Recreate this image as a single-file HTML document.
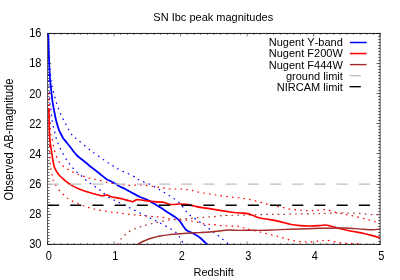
<!DOCTYPE html>
<html><head><meta charset="utf-8"><title>SN Ibc peak magnitudes</title>
<style>
html,body{margin:0;padding:0;background:#fff;}
body{width:400px;height:280px;position:relative;overflow:hidden;font-family:"Liberation Sans",sans-serif;}
.t{position:absolute;font-size:11px;line-height:11px;color:#000;white-space:nowrap;font-kerning:none;font-feature-settings:"kern" 0,"liga" 0;transform:scaleY(1.05);transform-origin:50% 9.3px;}
#w{position:absolute;left:0;top:0;width:400px;height:280px;will-change:transform;}
</style></head><body><div id="w">
<svg width="400" height="280" viewBox="0 0 400 280" style="position:absolute;left:0;top:0">
<defs><clipPath id="c"><rect x="47.6" y="33.45" width="332.54999999999995" height="210.95"/></clipPath></defs>
<path d="M47.60,244.4 v-3.0 M47.60,33.45 v3.0 M54.25,244.4 v-1.5 M54.25,33.45 v1.5 M60.90,244.4 v-1.5 M60.90,33.45 v1.5 M67.55,244.4 v-1.5 M67.55,33.45 v1.5 M74.20,244.4 v-1.5 M74.20,33.45 v1.5 M80.85,244.4 v-1.5 M80.85,33.45 v1.5 M87.51,244.4 v-1.5 M87.51,33.45 v1.5 M94.16,244.4 v-1.5 M94.16,33.45 v1.5 M100.81,244.4 v-1.5 M100.81,33.45 v1.5 M107.46,244.4 v-1.5 M107.46,33.45 v1.5 M114.11,244.4 v-3.0 M114.11,33.45 v3.0 M120.76,244.4 v-1.5 M120.76,33.45 v1.5 M127.41,244.4 v-1.5 M127.41,33.45 v1.5 M134.06,244.4 v-1.5 M134.06,33.45 v1.5 M140.71,244.4 v-1.5 M140.71,33.45 v1.5 M147.36,244.4 v-1.5 M147.36,33.45 v1.5 M154.02,244.4 v-1.5 M154.02,33.45 v1.5 M160.67,244.4 v-1.5 M160.67,33.45 v1.5 M167.32,244.4 v-1.5 M167.32,33.45 v1.5 M173.97,244.4 v-1.5 M173.97,33.45 v1.5 M180.62,244.4 v-3.0 M180.62,33.45 v3.0 M187.27,244.4 v-1.5 M187.27,33.45 v1.5 M193.92,244.4 v-1.5 M193.92,33.45 v1.5 M200.57,244.4 v-1.5 M200.57,33.45 v1.5 M207.22,244.4 v-1.5 M207.22,33.45 v1.5 M213.87,244.4 v-1.5 M213.87,33.45 v1.5 M220.53,244.4 v-1.5 M220.53,33.45 v1.5 M227.18,244.4 v-1.5 M227.18,33.45 v1.5 M233.83,244.4 v-1.5 M233.83,33.45 v1.5 M240.48,244.4 v-1.5 M240.48,33.45 v1.5 M247.13,244.4 v-3.0 M247.13,33.45 v3.0 M253.78,244.4 v-1.5 M253.78,33.45 v1.5 M260.43,244.4 v-1.5 M260.43,33.45 v1.5 M267.08,244.4 v-1.5 M267.08,33.45 v1.5 M273.73,244.4 v-1.5 M273.73,33.45 v1.5 M280.38,244.4 v-1.5 M280.38,33.45 v1.5 M287.04,244.4 v-1.5 M287.04,33.45 v1.5 M293.69,244.4 v-1.5 M293.69,33.45 v1.5 M300.34,244.4 v-1.5 M300.34,33.45 v1.5 M306.99,244.4 v-1.5 M306.99,33.45 v1.5 M313.64,244.4 v-3.0 M313.64,33.45 v3.0 M320.29,244.4 v-1.5 M320.29,33.45 v1.5 M326.94,244.4 v-1.5 M326.94,33.45 v1.5 M333.59,244.4 v-1.5 M333.59,33.45 v1.5 M340.24,244.4 v-1.5 M340.24,33.45 v1.5 M346.89,244.4 v-1.5 M346.89,33.45 v1.5 M353.55,244.4 v-1.5 M353.55,33.45 v1.5 M360.20,244.4 v-1.5 M360.20,33.45 v1.5 M366.85,244.4 v-1.5 M366.85,33.45 v1.5 M373.50,244.4 v-1.5 M373.50,33.45 v1.5 M380.15,244.4 v-3.0 M380.15,33.45 v3.0" stroke="#000" stroke-width="0.5" fill="none"/>
<path d="M47.6,33.50 h3.6 M380.15,33.50 h-3.6 M47.6,36.50 h1.9 M380.15,36.50 h-1.9 M47.6,39.50 h1.9 M380.15,39.50 h-1.9 M47.6,42.50 h1.9 M380.15,42.50 h-1.9 M47.6,45.50 h1.9 M380.15,45.50 h-1.9 M47.6,48.50 h1.9 M380.15,48.50 h-1.9 M47.6,51.50 h1.9 M380.15,51.50 h-1.9 M47.6,54.50 h1.9 M380.15,54.50 h-1.9 M47.6,57.50 h1.9 M380.15,57.50 h-1.9 M47.6,60.50 h1.9 M380.15,60.50 h-1.9 M47.6,63.50 h3.6 M380.15,63.50 h-3.6 M47.6,66.50 h1.9 M380.15,66.50 h-1.9 M47.6,69.50 h1.9 M380.15,69.50 h-1.9 M47.6,72.50 h1.9 M380.15,72.50 h-1.9 M47.6,75.50 h1.9 M380.15,75.50 h-1.9 M47.6,78.50 h1.9 M380.15,78.50 h-1.9 M47.6,81.50 h1.9 M380.15,81.50 h-1.9 M47.6,84.50 h1.9 M380.15,84.50 h-1.9 M47.6,87.50 h1.9 M380.15,87.50 h-1.9 M47.6,90.50 h1.9 M380.15,90.50 h-1.9 M47.6,93.50 h3.6 M380.15,93.50 h-3.6 M47.6,96.50 h1.9 M380.15,96.50 h-1.9 M47.6,99.50 h1.9 M380.15,99.50 h-1.9 M47.6,102.50 h1.9 M380.15,102.50 h-1.9 M47.6,105.50 h1.9 M380.15,105.50 h-1.9 M47.6,108.50 h1.9 M380.15,108.50 h-1.9 M47.6,111.50 h1.9 M380.15,111.50 h-1.9 M47.6,114.50 h1.9 M380.15,114.50 h-1.9 M47.6,117.50 h1.9 M380.15,117.50 h-1.9 M47.6,120.50 h1.9 M380.15,120.50 h-1.9 M47.6,123.50 h3.6 M380.15,123.50 h-3.6 M47.6,126.50 h1.9 M380.15,126.50 h-1.9 M47.6,129.50 h1.9 M380.15,129.50 h-1.9 M47.6,132.50 h1.9 M380.15,132.50 h-1.9 M47.6,135.50 h1.9 M380.15,135.50 h-1.9 M47.6,138.50 h1.9 M380.15,138.50 h-1.9 M47.6,141.50 h1.9 M380.15,141.50 h-1.9 M47.6,144.50 h1.9 M380.15,144.50 h-1.9 M47.6,147.50 h1.9 M380.15,147.50 h-1.9 M47.6,150.50 h1.9 M380.15,150.50 h-1.9 M47.6,153.50 h3.6 M380.15,153.50 h-3.6 M47.6,157.50 h1.9 M380.15,157.50 h-1.9 M47.6,160.50 h1.9 M380.15,160.50 h-1.9 M47.6,163.50 h1.9 M380.15,163.50 h-1.9 M47.6,166.50 h1.9 M380.15,166.50 h-1.9 M47.6,169.50 h1.9 M380.15,169.50 h-1.9 M47.6,172.50 h1.9 M380.15,172.50 h-1.9 M47.6,175.50 h1.9 M380.15,175.50 h-1.9 M47.6,178.50 h1.9 M380.15,178.50 h-1.9 M47.6,181.50 h1.9 M380.15,181.50 h-1.9 M47.6,184.50 h3.6 M380.15,184.50 h-3.6 M47.6,187.50 h1.9 M380.15,187.50 h-1.9 M47.6,190.50 h1.9 M380.15,190.50 h-1.9 M47.6,193.50 h1.9 M380.15,193.50 h-1.9 M47.6,196.50 h1.9 M380.15,196.50 h-1.9 M47.6,199.50 h1.9 M380.15,199.50 h-1.9 M47.6,202.50 h1.9 M380.15,202.50 h-1.9 M47.6,205.50 h1.9 M380.15,205.50 h-1.9 M47.6,208.50 h1.9 M380.15,208.50 h-1.9 M47.6,211.50 h1.9 M380.15,211.50 h-1.9 M47.6,214.50 h3.6 M380.15,214.50 h-3.6 M47.6,217.50 h1.9 M380.15,217.50 h-1.9 M47.6,220.50 h1.9 M380.15,220.50 h-1.9 M47.6,223.50 h1.9 M380.15,223.50 h-1.9 M47.6,226.50 h1.9 M380.15,226.50 h-1.9 M47.6,229.50 h1.9 M380.15,229.50 h-1.9 M47.6,232.50 h1.9 M380.15,232.50 h-1.9 M47.6,235.50 h1.9 M380.15,235.50 h-1.9 M47.6,238.50 h1.9 M380.15,238.50 h-1.9 M47.6,241.50 h1.9 M380.15,241.50 h-1.9 M47.6,244.50 h3.6 M380.15,244.50 h-3.6" stroke="#000" stroke-width="0.62" fill="none"/>
<path d="M47.300000000000004,33.45 H380.5" stroke="#000" stroke-width="0.9" fill="none"/>
<path d="M47.300000000000004,244.4 H380.5" stroke="#000" stroke-width="0.9" fill="none"/>
<path d="M47.5,33.45 V244.4" stroke="#000" stroke-width="0.62" fill="none"/>
<path d="M380.09999999999997,33.45 V244.4" stroke="#000" stroke-width="0.75" fill="none"/>
<g clip-path="url(#c)" fill="none" stroke-linejoin="round">
<path d="M48.20,33.50 C48.25,34.92 48.42,39.25 48.50,42.00 C48.58,44.75 48.53,45.33 48.70,50.00 C48.87,54.67 49.27,65.00 49.50,70.00 C49.73,75.00 49.88,77.33 50.10,80.00 C50.32,82.67 50.43,82.67 50.80,86.00 C51.17,89.33 51.77,96.00 52.30,100.00 C52.83,104.00 53.38,106.67 54.00,110.00 C54.62,113.33 55.17,116.67 56.00,120.00 C56.83,123.33 58.08,127.50 59.00,130.00 C59.92,132.50 60.83,133.67 61.50,135.00 C62.17,136.33 62.08,136.67 63.00,138.00 C63.92,139.33 65.67,141.33 67.00,143.00 C68.33,144.67 69.83,146.50 71.00,148.00 C72.17,149.50 73.00,150.75 74.00,152.00 C75.00,153.25 75.67,154.25 77.00,155.50 C78.33,156.75 80.33,158.17 82.00,159.50 C83.67,160.83 85.67,162.37 87.00,163.50 C88.33,164.63 88.67,165.22 90.00,166.30 C91.33,167.38 93.33,168.72 95.00,170.00 C96.67,171.28 98.33,172.67 100.00,174.00 C101.67,175.33 103.75,177.03 105.00,178.00 C106.25,178.97 106.67,179.33 107.50,179.80 C108.33,180.27 108.75,180.18 110.00,180.80 C111.25,181.42 113.33,182.55 115.00,183.50 C116.67,184.45 118.33,185.58 120.00,186.50 C121.67,187.42 123.33,188.13 125.00,189.00 C126.67,189.87 127.50,190.37 130.00,191.70 C132.50,193.03 137.29,195.72 140.00,197.00 C142.71,198.28 144.58,198.70 146.25,199.40 C147.92,200.10 148.33,200.27 150.00,201.20 C151.67,202.13 154.17,203.74 156.25,205.00 C158.33,206.26 160.42,207.40 162.50,208.75 C164.58,210.10 166.67,211.74 168.75,213.10 C170.83,214.46 173.22,215.65 175.00,216.90 C176.78,218.15 178.15,219.25 179.40,220.60 C180.65,221.95 181.47,223.53 182.50,225.00 C183.53,226.47 184.56,228.32 185.60,229.40 C186.64,230.48 187.39,230.78 188.75,231.50 C190.11,232.22 191.88,232.71 193.75,233.75 C195.62,234.79 197.74,235.96 200.00,237.75 C202.26,239.54 206.08,243.38 207.30,244.50" stroke="#0000ff" stroke-width="1.8"/>
<path d="M48.20,33.50 C48.38,37.92 48.83,52.25 49.30,60.00 C49.77,67.75 50.38,75.00 51.00,80.00 C51.62,85.00 52.23,86.67 53.00,90.00 C53.77,93.33 54.60,96.67 55.60,100.00 C56.60,103.33 57.67,106.67 59.00,110.00 C60.33,113.33 61.93,116.67 63.60,120.00 C65.27,123.33 67.43,127.33 69.00,130.00 C70.57,132.67 71.50,134.33 73.00,136.00 C74.50,137.67 75.17,137.67 78.00,140.00 C80.83,142.33 85.67,146.67 90.00,150.00 C94.33,153.33 100.17,157.33 104.00,160.00 C107.83,162.67 110.33,164.33 113.00,166.00 C115.67,167.67 116.67,168.33 120.00,170.00 C123.33,171.67 129.67,174.27 133.00,176.00 C136.33,177.73 137.17,179.00 140.00,180.40 C142.83,181.80 146.67,182.80 150.00,184.40 C153.33,186.00 156.67,188.07 160.00,190.00 C163.33,191.93 166.67,193.75 170.00,196.00 C173.33,198.25 177.50,201.17 180.00,203.50 C182.50,205.83 183.33,208.05 185.00,210.00 C186.67,211.95 188.17,213.65 190.00,215.20 C191.83,216.75 194.00,217.92 196.00,219.30 C198.00,220.68 200.17,222.22 202.00,223.50 C203.83,224.78 205.33,225.75 207.00,227.00 C208.67,228.25 209.83,229.33 212.00,231.00 C214.17,232.67 217.17,234.75 220.00,237.00 C222.83,239.25 227.50,243.25 229.00,244.50" stroke="#0000ff" stroke-width="1.2" stroke-dasharray="1.6 4.2"/>
<path d="M48.20,33.50 C48.25,39.58 48.23,58.92 48.50,70.00 C48.77,81.08 49.38,93.33 49.80,100.00 C50.22,106.67 50.63,106.67 51.00,110.00 C51.37,113.33 51.43,116.50 52.00,120.00 C52.57,123.50 53.60,127.67 54.40,131.00 C55.20,134.33 55.70,136.83 56.80,140.00 C57.90,143.17 59.30,146.57 61.00,150.00 C62.70,153.43 65.43,158.12 67.00,160.60 C68.57,163.08 69.22,163.43 70.40,164.90 C71.58,166.37 72.85,168.03 74.10,169.40 C75.35,170.77 76.48,171.85 77.90,173.10 C79.32,174.35 81.08,175.58 82.60,176.90 C84.12,178.22 85.50,179.75 87.00,181.00 C88.50,182.25 90.10,183.36 91.60,184.40 C93.10,185.44 94.43,186.15 96.00,187.25 C97.57,188.35 99.17,189.54 101.00,191.00 C102.83,192.46 104.83,194.50 107.00,196.00 C109.17,197.50 111.83,198.83 114.00,200.00 C116.17,201.17 117.33,201.67 120.00,203.00 C122.67,204.33 126.67,206.33 130.00,208.00 C133.33,209.67 136.67,211.33 140.00,213.00 C143.33,214.67 146.67,216.33 150.00,218.00 C153.33,219.67 156.67,221.25 160.00,223.00 C163.33,224.75 167.33,226.92 170.00,228.50 C172.67,230.08 174.50,231.25 176.00,232.50 C177.50,233.75 178.00,234.58 179.00,236.00 C180.00,237.42 181.25,239.58 182.00,241.00 C182.75,242.42 183.25,243.92 183.50,244.50" stroke="#0000ff" stroke-width="1.2" stroke-dasharray="1.6 4.2"/>
<path d="M48.80,108.00 C48.83,109.00 48.92,110.33 49.00,114.00 C49.08,117.67 49.13,125.50 49.30,130.00 C49.47,134.50 49.63,137.50 50.00,141.00 C50.37,144.50 51.08,148.17 51.50,151.00 C51.92,153.83 52.07,155.47 52.50,158.00 C52.93,160.53 53.60,164.27 54.10,166.20 C54.60,168.13 54.98,168.55 55.50,169.60 C56.02,170.65 56.62,171.57 57.25,172.50 C57.88,173.43 58.57,174.37 59.30,175.20 C60.02,176.03 60.38,176.38 61.60,177.50 C62.82,178.62 64.82,180.55 66.60,181.90 C68.38,183.25 70.27,184.46 72.25,185.60 C74.23,186.74 76.21,187.77 78.50,188.75 C80.79,189.73 83.50,190.67 86.00,191.50 C88.50,192.33 91.50,193.20 93.50,193.75 C95.50,194.30 96.58,194.46 98.00,194.80 C99.42,195.14 100.67,195.77 102.00,195.80 C103.33,195.83 105.00,195.08 106.00,195.00 C107.00,194.92 107.00,194.97 108.00,195.30 C109.00,195.63 110.00,196.48 112.00,197.00 C114.00,197.52 117.00,197.73 120.00,198.40 C123.00,199.07 127.83,200.47 130.00,201.00 C132.17,201.53 131.83,201.83 133.00,201.60 C134.17,201.37 135.17,199.80 137.00,199.60 C138.83,199.40 141.17,200.07 144.00,200.40 C146.83,200.73 150.67,201.27 154.00,201.60 C157.33,201.93 161.33,201.93 164.00,202.40 C166.67,202.87 167.33,204.13 170.00,204.40 C172.67,204.67 177.33,204.00 180.00,204.00 C182.67,204.00 183.67,204.07 186.00,204.40 C188.33,204.73 191.33,205.47 194.00,206.00 C196.67,206.53 199.33,207.17 202.00,207.60 C204.67,208.03 207.00,208.13 210.00,208.60 C213.00,209.07 216.67,209.83 220.00,210.40 C223.33,210.97 226.67,211.57 230.00,212.00 C233.33,212.43 237.33,212.77 240.00,213.00 C242.67,213.23 244.00,213.07 246.00,213.40 C248.00,213.73 249.67,214.23 252.00,215.00 C254.33,215.77 257.00,217.23 260.00,218.00 C263.00,218.77 266.67,219.00 270.00,219.60 C273.33,220.20 276.67,220.83 280.00,221.60 C283.33,222.37 286.67,223.53 290.00,224.20 C293.33,224.87 296.67,225.30 300.00,225.60 C303.33,225.90 306.67,226.02 310.00,226.00 C313.33,225.98 317.50,225.67 320.00,225.50 C322.50,225.33 323.25,224.92 325.00,225.00 C326.75,225.08 328.42,225.50 330.50,226.00 C332.58,226.50 334.92,227.33 337.50,228.00 C340.08,228.67 343.08,229.37 346.00,230.00 C348.92,230.63 352.03,231.22 355.00,231.80 C357.97,232.38 360.88,232.87 363.80,233.50 C366.72,234.13 369.72,234.87 372.50,235.60 C375.28,236.33 379.17,237.52 380.50,237.90" stroke="#ff0000" stroke-width="1.65"/>
<path d="M48.80,93.00 C49.07,99.17 49.80,122.17 50.40,130.00 C51.00,137.83 51.73,136.67 52.40,140.00 C53.07,143.33 53.47,146.67 54.40,150.00 C55.33,153.33 56.57,157.33 58.00,160.00 C59.43,162.67 61.17,164.33 63.00,166.00 C64.83,167.67 66.67,168.67 69.00,170.00 C71.33,171.33 73.83,172.73 77.00,174.00 C80.17,175.27 84.50,176.60 88.00,177.60 C91.50,178.60 94.33,179.10 98.00,180.00 C101.67,180.90 106.33,182.27 110.00,183.00 C113.67,183.73 116.67,184.00 120.00,184.40 C123.33,184.80 126.67,185.30 130.00,185.40 C133.33,185.50 136.67,184.90 140.00,185.00 C143.33,185.10 146.67,185.57 150.00,186.00 C153.33,186.43 156.67,187.10 160.00,187.60 C163.33,188.10 166.67,188.77 170.00,189.00 C173.33,189.23 176.67,188.83 180.00,189.00 C183.33,189.17 186.67,189.43 190.00,190.00 C193.33,190.57 196.67,191.73 200.00,192.40 C203.33,193.07 206.67,193.47 210.00,194.00 C213.33,194.53 216.67,195.10 220.00,195.60 C223.33,196.10 226.67,196.60 230.00,197.00 C233.33,197.40 236.67,197.57 240.00,198.00 C243.33,198.43 246.67,198.93 250.00,199.60 C253.33,200.27 256.67,201.10 260.00,202.00 C263.33,202.90 266.67,204.20 270.00,205.00 C273.33,205.80 276.58,206.10 280.00,206.80 C283.42,207.50 286.75,208.60 290.50,209.20 C294.25,209.80 298.75,210.15 302.50,210.40 C306.25,210.65 310.25,210.77 313.00,210.70 C315.75,210.63 317.00,210.17 319.00,210.00 C321.00,209.83 323.08,209.57 325.00,209.70 C326.92,209.83 328.42,210.25 330.50,210.80 C332.58,211.35 335.45,212.48 337.50,213.00 C339.55,213.52 340.22,213.40 342.80,213.90 C345.38,214.40 349.22,215.15 353.00,216.00 C356.78,216.85 361.67,218.00 365.50,219.00 C369.33,220.00 373.50,221.25 376.00,222.00 C378.50,222.75 379.75,223.25 380.50,223.50" stroke="#ff0000" stroke-width="1.2" stroke-dasharray="1.6 4.2"/>
<path d="M48.50,93.00 C48.68,102.50 49.18,137.17 49.60,150.00 C50.02,162.83 50.53,165.67 51.00,170.00 C51.47,174.33 52.07,174.33 52.40,176.00 C52.73,177.67 52.57,178.67 53.00,180.00 C53.43,181.33 54.00,182.33 55.00,184.00 C56.00,185.67 57.33,188.00 59.00,190.00 C60.67,192.00 63.17,194.33 65.00,196.00 C66.83,197.67 67.67,198.67 70.00,200.00 C72.33,201.33 76.17,202.83 79.00,204.00 C81.83,205.17 84.50,206.17 87.00,207.00 C89.50,207.83 91.17,208.33 94.00,209.00 C96.83,209.67 100.67,210.43 104.00,211.00 C107.33,211.57 111.33,212.07 114.00,212.40 C116.67,212.73 117.33,212.67 120.00,213.00 C122.67,213.33 126.67,214.00 130.00,214.40 C133.33,214.80 136.67,215.08 140.00,215.40 C143.33,215.72 147.00,216.05 150.00,216.30 C153.00,216.55 155.67,216.68 158.00,216.90 C160.33,217.12 162.00,217.28 164.00,217.60 C166.00,217.92 168.00,218.47 170.00,218.80 C172.00,219.13 174.33,219.35 176.00,219.60 C177.67,219.85 178.46,220.23 180.00,220.30 C181.54,220.37 183.50,219.92 185.25,220.00 C187.00,220.08 188.46,220.43 190.50,220.80 C192.54,221.17 195.17,221.68 197.50,222.20 C199.83,222.72 202.46,223.55 204.50,223.90 C206.54,224.25 208.00,224.17 209.75,224.30 C211.50,224.43 213.12,224.48 215.00,224.70 C216.88,224.92 218.96,225.38 221.00,225.60 C223.04,225.82 225.08,225.90 227.25,226.00 C229.42,226.10 231.88,226.13 234.00,226.20 C236.12,226.27 238.33,226.10 240.00,226.40 C241.67,226.70 242.33,227.47 244.00,228.00 C245.67,228.53 247.33,228.93 250.00,229.60 C252.67,230.27 256.67,231.20 260.00,232.00 C263.33,232.80 266.67,233.57 270.00,234.40 C273.33,235.23 276.67,236.07 280.00,237.00 C283.33,237.93 286.67,239.23 290.00,240.00 C293.33,240.77 296.67,241.27 300.00,241.60 C303.33,241.93 306.67,242.10 310.00,242.00 C313.33,241.90 317.50,241.30 320.00,241.00 C322.50,240.70 323.25,240.22 325.00,240.20 C326.75,240.18 328.42,240.55 330.50,240.90 C332.58,241.25 335.45,241.93 337.50,242.30 C339.55,242.67 341.05,242.92 342.80,243.10 C344.55,243.28 346.13,243.33 348.00,243.40 C349.87,243.47 352.00,243.47 354.00,243.50 C356.00,243.53 358.50,243.38 360.00,243.60 C361.50,243.82 362.50,244.60 363.00,244.80" stroke="#ff0000" stroke-width="1.2" stroke-dasharray="1.6 4.2"/>
<path d="M137.00,244.50 C138.17,243.92 141.50,242.08 144.00,241.00 C146.50,239.92 149.33,238.83 152.00,238.00 C154.67,237.17 157.00,236.57 160.00,236.00 C163.00,235.43 166.67,234.97 170.00,234.60 C173.33,234.23 176.67,234.07 180.00,233.80 C183.33,233.53 186.67,233.20 190.00,233.00 C193.33,232.80 196.67,232.77 200.00,232.60 C203.33,232.43 206.67,232.27 210.00,232.00 C213.33,231.73 217.00,231.33 220.00,231.00 C223.00,230.67 224.67,230.10 228.00,230.00 C231.33,229.90 236.33,230.37 240.00,230.40 C243.67,230.43 246.67,230.20 250.00,230.20 C253.33,230.20 255.00,230.50 260.00,230.40 C265.00,230.30 273.33,229.83 280.00,229.60 C286.67,229.37 293.33,229.22 300.00,229.00 C306.67,228.78 313.75,228.47 320.00,228.30 C326.25,228.13 333.17,228.05 337.50,228.00 C341.83,227.95 343.08,227.90 346.00,228.00 C348.92,228.10 352.00,228.38 355.00,228.60 C358.00,228.82 361.08,229.12 364.00,229.30 C366.92,229.48 369.75,229.75 372.50,229.70 C375.25,229.65 379.17,229.12 380.50,229.00" stroke="#a52a2a" stroke-width="1.4"/>
<path d="M117.60,244.50 C118.17,243.58 119.60,240.75 121.00,239.00 C122.40,237.25 124.17,235.50 126.00,234.00 C127.83,232.50 129.67,231.17 132.00,230.00 C134.33,228.83 137.67,227.80 140.00,227.00 C142.33,226.20 143.92,225.78 146.00,225.20 C148.08,224.62 150.50,223.99 152.50,223.50 C154.50,223.01 156.08,222.67 158.00,222.25 C159.92,221.83 162.08,221.38 164.00,221.00 C165.92,220.62 167.67,220.25 169.50,220.00 C171.33,219.75 172.96,219.67 175.00,219.50 C177.04,219.33 179.75,219.14 181.75,219.00 C183.75,218.86 185.12,218.80 187.00,218.65 C188.88,218.50 191.10,218.28 193.00,218.10 C194.90,217.92 196.48,217.74 198.40,217.60 C200.32,217.46 202.61,217.37 204.50,217.25 C206.39,217.13 207.85,217.04 209.75,216.90 C211.65,216.76 213.86,216.62 215.90,216.40 C217.94,216.18 220.11,215.78 222.00,215.60 C223.89,215.42 224.25,215.37 227.25,215.30 C230.25,215.23 236.21,215.25 240.00,215.20 C243.79,215.15 246.67,215.10 250.00,215.00 C253.33,214.90 256.67,214.70 260.00,214.60 C263.33,214.50 266.67,214.43 270.00,214.40 C273.33,214.37 275.58,214.47 280.00,214.40 C284.42,214.33 290.75,214.12 296.50,214.00 C302.25,213.88 309.75,213.82 314.50,213.70 C319.25,213.58 321.25,213.42 325.00,213.30 C328.75,213.18 333.17,213.05 337.00,213.00 C340.83,212.95 344.17,212.92 348.00,213.00 C351.83,213.08 355.92,213.23 360.00,213.50 C364.08,213.77 369.08,214.42 372.50,214.60 C375.92,214.78 379.17,214.60 380.50,214.60" stroke="#a52a2a" stroke-width="1.2" stroke-dasharray="1.6 4.2"/>
<path d="M48.0,184.1 H380.15" stroke="#bebebe" stroke-width="1.35" stroke-dasharray="11.1 11.1"/>
<path d="M48.0,205.2 H380.15" stroke="#000" stroke-width="1.35" stroke-dasharray="11.1 11.1"/>
</g>
<g fill="none">
<path d="M349.9,42.5 H366.6" stroke="#0000ff" stroke-width="1.5"/>
<path d="M349.9,53.55 H366.6" stroke="#ff0000" stroke-width="1.55"/>
<path d="M349.9,64.6 H366.6" stroke="#a52a2a" stroke-width="1.4"/>
<path d="M349.6,75.65 H360.8" stroke="#bebebe" stroke-width="1.35"/>
<path d="M349.6,86.7 H360.8" stroke="#000" stroke-width="1.35"/>
</g>
</svg>
<div class="t" style="left:113.30000000000001px;width:200px;text-align:center;top:11.60px;">SN Ibc peak magnitudes</div>
<div class="t" style="left:113.69999999999999px;width:200px;text-align:center;top:266.50px;">Redshift</div>
<div class="t" style="left:-51.3px;width:200px;text-align:center;top:250.70px;transform:scaleY(1.12);">0</div>
<div class="t" style="left:15.20999999999998px;width:200px;text-align:center;top:250.70px;transform:scaleY(1.12);">1</div>
<div class="t" style="left:81.71999999999997px;width:200px;text-align:center;top:250.70px;transform:scaleY(1.12);">2</div>
<div class="t" style="left:148.22999999999996px;width:200px;text-align:center;top:250.70px;transform:scaleY(1.12);">3</div>
<div class="t" style="left:214.74px;width:200px;text-align:center;top:250.70px;transform:scaleY(1.12);">4</div>
<div class="t" style="left:281.25px;width:200px;text-align:center;top:250.70px;transform:scaleY(1.12);">5</div>
<div class="t" style="left:-158.6px;width:200px;text-align:right;top:28.35px;transform:scaleY(1.12);">16</div>
<div class="t" style="left:-158.6px;width:200px;text-align:right;top:58.49px;transform:scaleY(1.12);">18</div>
<div class="t" style="left:-158.6px;width:200px;text-align:right;top:88.62px;transform:scaleY(1.12);">20</div>
<div class="t" style="left:-158.6px;width:200px;text-align:right;top:118.76px;transform:scaleY(1.12);">22</div>
<div class="t" style="left:-158.6px;width:200px;text-align:right;top:148.89px;transform:scaleY(1.12);">24</div>
<div class="t" style="left:-158.6px;width:200px;text-align:right;top:179.03px;transform:scaleY(1.12);">26</div>
<div class="t" style="left:-158.6px;width:200px;text-align:right;top:209.16px;transform:scaleY(1.12);">28</div>
<div class="t" style="left:-158.6px;width:200px;text-align:right;top:239.30px;transform:scaleY(1.12);">30</div>
<div class="t" style="left:142.8px;width:200px;text-align:right;top:37.05px;">Nugent Y-band</div>
<div class="t" style="left:142.8px;width:200px;text-align:right;top:48.45px;">Nugent F200W</div>
<div class="t" style="left:142.8px;width:200px;text-align:right;top:59.50px;">Nugent F444W</div>
<div class="t" style="left:142.8px;width:200px;text-align:right;top:70.55px;">ground limit</div>
<div class="t" style="left:142.8px;width:200px;text-align:right;top:81.60px;">NIRCAM limit</div>
<div class="t" style="left:-91.33px;top:133.6px;width:200px;text-align:center;transform:rotate(-90deg) scale(1.012,1.14);transform-origin:50% 50%;">Observed AB-magnitude</div>
</div></body></html>
